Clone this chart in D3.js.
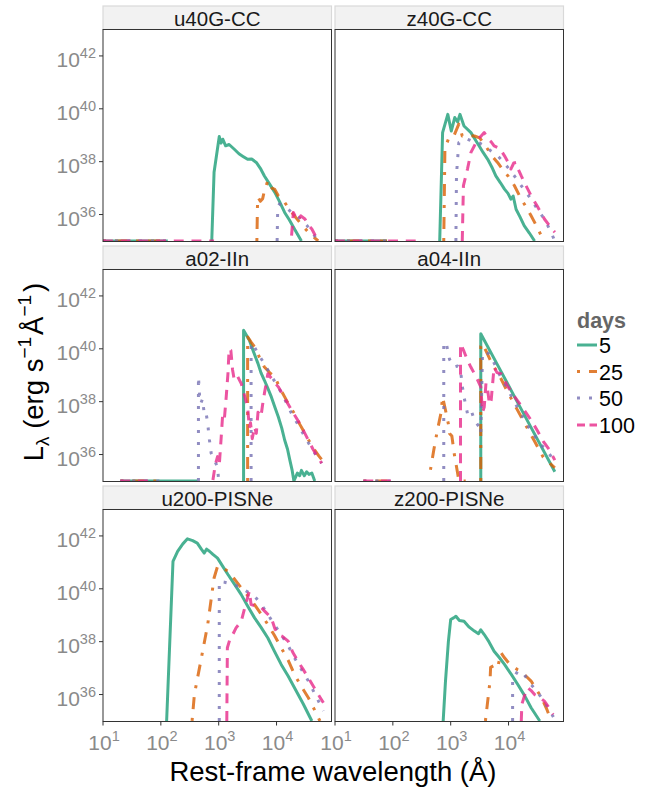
<!DOCTYPE html>
<html><head><meta charset="utf-8">
<script src="https://cdn.jsdelivr.net/npm/d3@7"></script>
<style>
body{margin:0;background:#fff}
svg{display:block}
text{font-family:"Liberation Sans",Arial,Helvetica,sans-serif}
</style>
</head><body>
<svg id="chart" width="656" height="789"></svg>
<script>
// ---------------- data ----------------
const panels = ["u40G-CC","z40G-CC","a02-IIn","a04-IIn","u200-PISNe","z200-PISNe"];
const days = ["5","25","50","100"];
const dayColors = ["#1B9E77","#D95F02","#7570B3","#E7298A"];
const xTickExp = [1,2,3,4];        // 10^1 .. 10^4 Å
const yTickExp = [36,38,40,42];    // 10^36 .. 10^42 erg/s/Å
const xTitle = "Rest-frame wavelength (Å)";
const legendTitle = "days";

// each point: [log10 wavelength (Å), log10 L_lambda (erg s^-1 Å^-1)]; null = gap
const u40G_5   = [[1.0,35],[2.12,35],null,[2.88,35],[2.92,37.6],[3.01,38.95],[3.04,38.7],[3.07,38.85],[3.12,38.6],[3.18,38.65],[3.27,38.47],[3.35,38.3],[3.42,38.2],[3.5,38.09],[3.57,38.1],[3.65,37.97],[3.72,37.75],[3.79,37.46],[3.88,37.15],[3.97,36.84],[4.05,36.5],[4.14,36.08],[4.22,35.8],[4.31,35.45],[4.43,35.0]];
const u40G_25  = [[1.0,35],[2.12,35],null,[3.66,35],[3.67,36.3],[3.68,36.65],[3.72,36.5],[3.76,36.6],[3.79,36.9],[3.85,37.28],[3.92,37.0],[3.97,36.95],[4.03,36.71],[4.14,36.46],[4.22,36.2],[4.31,35.95],[4.42,35.65],[4.55,35.33],[4.72,35]];
const u40G_50  = [[1.0,35],[2.12,35],null,[4.01,35],[4.02,36.2],[4.05,36.4],[4.12,36.3],[4.2,36.2],[4.3,36.0],[4.43,35.83],[4.52,35.6],[4.61,35.34],[4.72,35]];
const u40G_100 = [[1.0,35],[2.92,35],null,[4.26,35.2],[4.29,36.08],[4.33,35.9],[4.37,35.77],[4.42,35.95],[4.49,35.83],[4.55,35.6],[4.61,35.45],[4.72,35]];

const z40G_5   = [[1.0,35],[1.9,35],null,[2.81,35],[2.86,39.1],[2.95,39.79],[3.01,39.16],[3.07,39.67],[3.12,39.5],[3.16,39.79],[3.23,39.35],[3.35,39.1],[3.42,38.85],[3.49,38.6],[3.56,38.35],[3.64,38.09],[3.71,37.8],[3.78,37.46],[3.86,37.2],[3.93,36.96],[3.99,36.8],[4.04,36.58],[4.08,36.7],[4.13,36.2],[4.2,35.9],[4.27,35.58],[4.36,35.3],[4.45,35.0]];
const z40G_25  = [[1.0,35],[1.9,35],null,[2.88,35],[2.9,38.5],[2.97,38.91],[3.05,38.95],[3.14,39.42],[3.2,38.97],[3.3,39.0],[3.41,38.97],[3.5,38.9],[3.57,38.7],[3.64,38.47],[3.72,38.2],[3.81,37.97],[3.9,37.7],[3.99,37.46],[4.1,37.1],[4.22,36.58],[4.3,36.3],[4.39,35.95],[4.5,35.5],[4.59,35.08],[4.62,35]];
const z40G_50  = [[1.0,35],[1.9,35],null,[3.09,35],[3.1,37.5],[3.14,38.72],[3.22,38.8],[3.29,38.85],[3.4,38.75],[3.5,38.7],[3.58,38.6],[3.7,38.4],[3.8,38.25],[3.87,38.09],[4.0,37.75],[4.1,37.46],[4.25,37.0],[4.39,36.58],[4.5,36.2],[4.62,35.83],[4.72,35.4],[4.80,35.0]];
const z40G_100 = [[1.0,35],[2.44,35],null,[3.2,35],[3.22,37.09],[3.29,37.72],[3.35,38.35],[3.41,38.6],[3.46,38.85],[3.52,38.95],[3.58,39.1],[3.65,38.85],[3.7,38.75],[3.75,38.6],[3.85,38.5],[3.93,38.22],[4.0,37.95],[4.04,37.72],[4.09,37.95],[4.13,37.97],[4.17,37.7],[4.22,37.46],[4.3,37.1],[4.39,36.71],[4.5,36.3],[4.62,35.83],[4.7,35.6],[4.80,35.33]];

const a02_5   = [[1.3,35],[2.63,35],null,[3.43,35],[3.43,40.7],[3.53,40.32],[3.6,39.9],[3.68,39.44],[3.73,39.1],[3.79,38.81],[3.85,38.5],[3.91,38.18],[3.97,37.8],[4.03,37.43],[4.09,37.0],[4.14,36.55],[4.19,36.2],[4.23,35.79],[4.27,35.4],[4.30,35.0],[4.36,35.3],[4.4,35.2],[4.43,35.4],[4.48,35.2],[4.52,35.35],[4.56,35.25],[4.61,35.3],[4.66,35]];
const a02_25  = [[1.3,35],[2.0,35],null,[3.50,35],[3.50,40.45],[3.56,40.25],[3.62,40.07],[3.7,39.7],[3.79,39.31],[3.88,39.1],[3.97,38.94],[4.05,38.55],[4.14,38.18],[4.22,37.85],[4.31,37.55],[4.4,37.15],[4.49,36.8],[4.58,36.45],[4.66,36.17],[4.73,35.95],[4.81,35.73]];
const a02_50  = [[1.3,35],[2.0,35],null,[2.65,35],[2.65,38.94],[2.67,38.2],[2.69,37.93],[2.72,38.1],[2.75,37.55],[2.78,37.6],[2.81,37.17],[2.84,36.55],[2.87,36.05],[2.92,35.8],[2.98,35.54],[3.0,35],null,[3.56,35],[3.56,40.2],[3.59,40.2],[3.68,39.8],[3.79,39.44],[3.9,39.0],[4.03,38.56],[4.15,38.05],[4.26,37.55],[4.38,37.1],[4.49,36.67],[4.63,36.15],[4.78,35.67]];
const a02_100 = [[1.3,35],[1.85,35],null,[2.9,35.04],[2.94,35.6],[2.98,35.92],[3.01,35.6],[3.04,36.55],[3.07,37.55],[3.1,37.4],[3.13,38.18],[3.16,39.06],[3.18,40.0],[3.21,39.94],[3.24,39.2],[3.27,38.81],[3.33,38.94],[3.39,38.68],[3.45,38.2],[3.5,37.8],[3.53,37.0],[3.55,37.2],[3.58,36.6],[3.62,37.05],[3.65,36.8],[3.68,37.6],[3.73,37.43],[3.76,37.9],[3.79,38.31],[3.85,39.06],[3.94,38.8],[4.03,38.56],[4.15,38.1],[4.26,37.68],[4.38,37.25],[4.49,36.8],[4.63,36.2],[4.78,35.67]];

const a04_5   = [[3.52,35],[3.52,40.57],[3.8,39.43],[4.1,38.2],[4.4,36.98],[4.80,35.35]];
const a04_25  = [[1.49,35],[2.0,35],null,[2.65,35.42],[2.71,36.2],[2.77,36.92],[2.83,37.55],[2.86,38.18],[2.91,37.68],[2.97,37.05],[2.98,36.8],[3.02,36.7],[3.06,36.05],[3.12,35.29],[3.14,35],[3.26,35],null,[3.52,35],[3.52,40.1],[3.55,40.2],[3.7,39.5],[3.85,38.95],[4.0,38.3],[4.15,37.7],[4.3,37.1],[4.45,36.5],[4.6,35.9],[4.80,35.5]];
const a04_50  = [[1.49,35],[2.0,35],null,[2.88,35],[2.88,40.2],[2.92,40.25],[2.98,39.6],[3.06,39.31],[3.12,39.35],[3.17,39.19],[3.2,38.6],[3.23,38.18],[3.29,37.55],[3.35,37.7],[3.41,37.3],[3.49,37.05],[3.52,36.8],[3.55,39.82],[3.62,39.9],[3.70,39.69],[3.85,39.0],[4.0,38.4],[4.15,37.8],[4.3,37.2],[4.42,36.8],[4.55,36.4],[4.68,36.1],[4.80,35.73]];
const a04_100 = [[1.49,35],[2.0,35],null,[3.17,35],[3.17,40.2],[3.23,39.9],[3.29,39.57],[3.35,39.3],[3.41,39.06],[3.47,38.8],[3.52,38.56],[3.55,37.6],[3.58,37.8],[3.61,38.7],[3.64,38.43],[3.67,37.9],[3.70,38.06],[3.75,39.31],[3.8,39.1],[3.87,39.06],[3.98,38.6],[4.1,38.2],[4.25,37.75],[4.39,37.3],[4.5,36.9],[4.6,36.5],[4.7,36.2],[4.80,35.79]];

const u200_5   = [[2.10,35],[2.21,41.04],[2.29,41.42],[2.38,41.7],[2.46,41.89],[2.55,41.82],[2.63,41.73],[2.7,41.5],[2.75,41.35],[2.79,41.5],[2.84,41.42],[2.9,41.3],[2.98,41.16],[3.07,40.85],[3.16,40.54],[3.28,40.15],[3.39,39.78],[3.5,39.35],[3.62,38.9],[3.73,38.55],[3.85,38.14],[3.96,37.65],[4.08,37.14],[4.2,36.7],[4.31,36.26],[4.46,35.65],[4.61,35.0]];
const u200_25  = [[2.54,35],[2.58,36.01],[2.69,37.26],[2.81,38.65],[2.92,40.41],[2.98,40.85],[3.07,40.8],[3.16,40.66],[3.28,40.35],[3.39,40.03],[3.5,39.75],[3.62,39.4],[3.73,39.05],[3.85,38.65],[3.96,38.25],[4.08,37.77],[4.2,37.3],[4.31,36.76],[4.43,36.3],[4.55,35.88],[4.65,35.45],[4.75,35.0]];
const u200_50  = [[3.01,35],[3.01,40.28],[3.1,40.25],[3.27,40.16],[3.45,39.95],[3.62,39.72],[3.74,39.4],[3.85,39.03],[3.96,38.65],[4.08,38.27],[4.2,37.85],[4.31,37.39],[4.43,36.95],[4.55,36.51],[4.68,35.95],[4.81,35.38]];
const u200_100 = [[3.14,35],[3.15,37.77],[3.20,38.14],[3.25,38.3],[3.30,38.52],[3.39,38.77],[3.45,39.28],[3.53,39.91],[3.56,39.4],[3.65,39.35],[3.74,39.28],[3.82,39.1],[3.91,38.9],[3.97,38.5],[4.03,38.27],[4.1,38.2],[4.2,38.02],[4.28,37.6],[4.37,37.26],[4.46,36.95],[4.55,36.63],[4.68,36.15],[4.81,35.69]];

const z200_5   = [[2.87,35],[2.91,36.51],[2.96,38.0],[3.0,38.84],[3.05,38.9],[3.09,38.96],[3.15,38.8],[3.23,38.77],[3.32,38.55],[3.41,38.4],[3.48,38.3],[3.52,38.45],[3.58,38.27],[3.66,38.0],[3.75,37.64],[3.84,37.4],[3.93,37.14],[4.05,36.75],[4.16,36.38],[4.28,35.95],[4.39,35.5],[4.54,35.0]];
const z200_25  = [[3.60,35],[3.68,36.51],[3.69,37.03],[3.75,37.1],[3.81,37.01],[3.87,37.58],[3.93,37.39],[4.0,37.2],[4.07,37.08],[4.15,36.95],[4.22,36.89],[4.3,36.7],[4.39,36.51],[4.48,36.2],[4.57,35.88],[4.66,35.45],[4.74,35.0]];
const z200_50  = [[4.07,35],[4.07,36.63],[4.12,36.75],[4.16,36.89],[4.25,36.82],[4.32,36.6],[4.39,36.38],[4.48,36.15],[4.57,35.88],[4.68,35.5],[4.80,35.06]];
const z200_100 = [[4.22,35],[4.23,35.63],[4.30,36.13],[4.33,36.26],[4.39,36.15],[4.45,36.0],[4.53,35.9],[4.62,35.75],[4.7,35.5],[4.77,35.25]];

const panelSeries = [
  [u40G_5,u40G_25,u40G_50,u40G_100],
  [z40G_5,z40G_25,z40G_50,z40G_100],
  [a02_5,a02_25,a02_50,a02_100],
  [a04_5,a04_25,a04_50,a04_100],
  [u200_5,u200_25,u200_50,u200_100],
  [z200_5,z200_25,z200_50,z200_100]
];

// ---------------- layout / style ----------------
const svg = d3.select("#chart");
const colX = [103, 335];
const rowTop = [6, 246, 486];
const stripH = 23.5, panelW = 228.5, panelH = 212;
const lw = 3;
const dashes = ["none", `${lw},${lw*3},${lw*4},${lw*3}`, `${lw},${lw*3}`, `${lw*3.3},${lw*2.6}`];
const legendDashes = ["none", "3,9,8,2", "3,9", "8,4.5"];
const tickGrey = "#8a8a8a";

const x = d3.scaleLog().domain([10, Math.pow(10,4.95)]).range([0, panelW]);
const y = d3.scaleLog().domain([Math.pow(10,34.98), 1e43]).range([panelH, 0]);

const line = d3.line()
  .defined(d => d !== null)
  .x(d => x(Math.pow(10, d[0])))
  .y(d => y(Math.pow(10, d[1])));

svg.append("defs").append("clipPath").attr("id","pclip")
  .append("rect").attr("x",0).attr("y",0).attr("width",panelW).attr("height",panelH);

panels.forEach((name, i) => {
  const col = i % 2, row = Math.floor(i / 2);
  const gx = colX[col], gy = rowTop[row];
  // strip
  svg.append("rect").attr("x", gx).attr("y", gy).attr("width", panelW).attr("height", stripH)
    .attr("fill", "#f2f2f2").attr("stroke", "#d9d9d9").attr("stroke-width", 1.2);
  svg.append("text").attr("x", gx + panelW/2).attr("y", gy + 19.5)
    .attr("text-anchor","middle").attr("font-size", 20.5).attr("fill","#1a1a1a").text(name);

  const g = svg.append("g").attr("transform", `translate(${gx},${gy + stripH})`);
  g.append("rect").attr("width", panelW).attr("height", panelH).attr("fill","#fff");

  const lines = g.append("g").attr("clip-path","url(#pclip)");
  panelSeries[i].forEach((s, k) => {
    lines.append("path").datum(s).attr("d", line)
      .attr("fill","none").attr("stroke", dayColors[k]).attr("stroke-opacity", 0.8)
      .attr("stroke-width", lw).attr("stroke-dasharray", dashes[k])
      .attr("stroke-linejoin","round").attr("stroke-linecap","butt");
  });

  g.append("rect").attr("width", panelW).attr("height", panelH)
    .attr("fill","none").attr("stroke","#333").attr("stroke-width",1);

  // y axis (left column)
  if (col === 0) {
    yTickExp.forEach(e => {
      const ty = y(Math.pow(10, e));
      g.append("line").attr("x1",-4).attr("x2",0).attr("y1",ty).attr("y2",ty)
        .attr("stroke","#333").attr("stroke-width",1);
      const t = g.append("text").attr("x", -7).attr("y", ty + 11)
        .attr("text-anchor","end").attr("fill", tickGrey).attr("font-size", 21);
      t.append("tspan").text("10");
      t.append("tspan").attr("font-size", 14.5).attr("dy", -8.5).text(String(e));
    });
  }
  // x axis (bottom row)
  if (row === 2) {
    xTickExp.forEach(e => {
      const tx = x(Math.pow(10, e));
      g.append("line").attr("x1",tx).attr("x2",tx).attr("y1",panelH).attr("y2",panelH+4)
        .attr("stroke","#333").attr("stroke-width",1);
      const t = g.append("text").attr("x", tx + 1).attr("y", panelH + 28)
        .attr("text-anchor","middle").attr("fill", tickGrey).attr("font-size", 21);
      t.append("tspan").text("10");
      t.append("tspan").attr("font-size", 14.5).attr("dy", -9).text(String(e));
    });
  }
});

// x title
svg.append("text").attr("x", 333).attr("y", 781).attr("text-anchor","middle")
  .attr("font-size", 27.5).attr("fill","#000").text(xTitle);

// y title (rotated)
const yt = svg.append("text").attr("transform","translate(43,372) rotate(-90)")
  .attr("text-anchor","middle").attr("font-size", 27.5).attr("fill","#000");
yt.append("tspan").text("L");
yt.append("tspan").attr("font-size",19).attr("dy",6).text("λ");
yt.append("tspan").attr("dy",-6).text(" (erg s");
yt.append("tspan").attr("font-size",19).attr("dy",-12).text("−1");
yt.append("tspan").attr("dy",12).attr("dx",2).text("Å");
yt.append("tspan").attr("font-size",19).attr("dy",-12).text("−1");
yt.append("tspan").attr("dy",12).attr("dx",3).text(")");

// legend
const lg = svg.append("g").attr("transform","translate(577,0)");
lg.append("text").attr("x",0).attr("y",328).attr("font-size",21.5).attr("font-weight","bold")
  .attr("fill","#666").text(legendTitle);
const legY = [345, 371.5, 398, 425];
days.forEach((d, k) => {
  lg.append("line").attr("x1",0).attr("x2",20).attr("y1",legY[k]).attr("y2",legY[k])
    .attr("stroke", dayColors[k]).attr("stroke-opacity",0.8).attr("stroke-width",lw)
    .attr("stroke-dasharray", legendDashes[k]);
  lg.append("text").attr("x",22).attr("y",legY[k]+8).attr("font-size",21.5).attr("fill","#000").text(d);
});
</script>
</body></html>
